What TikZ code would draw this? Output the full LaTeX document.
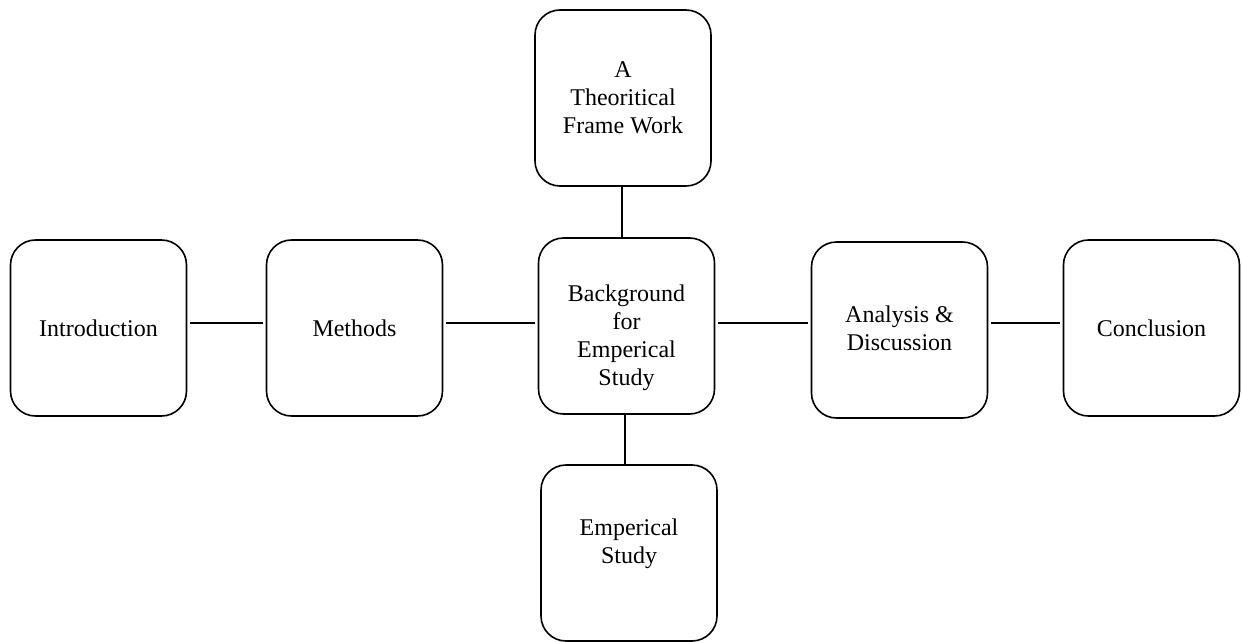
\documentclass[tikz,border=0pt]{standalone}
\usepackage{fontspec}
\setmainfont{Liberation Serif}
\begin{document}
\begin{tikzpicture}[x=0.5pt,y=-0.5pt,
  box/.style={draw,line width=0.8pt,rounded corners=12.5pt,minimum width=88pt,minimum height=88pt,inner sep=0pt},
  txt/.style={align=center,font=\fontsize{12}{14}\selectfont,inner sep=0pt},
  conn/.style={line width=0.8pt,shorten <=1.5pt,shorten >=1.5pt},
  vconn/.style={line width=0.8pt}]
\useasboundingbox (0,0) rectangle (1242,642);
\node[box] (intro) at (98.5,328) {};
\node[txt] (introt) at (98.5,328) {Introduction};
\node[box] (meth) at (354.5,328) {};
\node[txt] (metht) at (354.5,328) {Methods};
\node[box] (back) at (626.5,326) {};
\node[txt] (backt) at (626.5,338) {Background\\for\\Emperical\\Study};
\node[box] (anal) at (899.5,330) {};
\node[txt] (analt) at (899.5,328) {Analysis \&\\Discussion};
\node[box] (conc) at (1151.5,328) {};
\node[txt] (conct) at (1151.5,328) {Conclusion};
\node[box] (theo) at (623,98) {};
\node[txt] (theot) at (623,98) {A\\Theoritical\\Frame Work};
\node[box] (emp) at (629,553) {};
\node[txt] (empt) at (629,544) {Emperical\\Study};
\coordinate (m1) at (0,323);
\draw[conn] (intro.east |- m1) -- (meth.west |- m1);
\draw[conn] (meth.east |- m1) -- (back.west |- m1);
\draw[conn] (back.east |- m1) -- (anal.west |- m1);
\draw[conn] (anal.east |- m1) -- (conc.west |- m1);
\coordinate (v1) at (622,0);
\coordinate (v2) at (625,0);
\draw[vconn] (theo.south -| v1) -- (back.north -| v1);
\draw[vconn] (back.south -| v2) -- (emp.north -| v2);
\end{tikzpicture}
\end{document}
